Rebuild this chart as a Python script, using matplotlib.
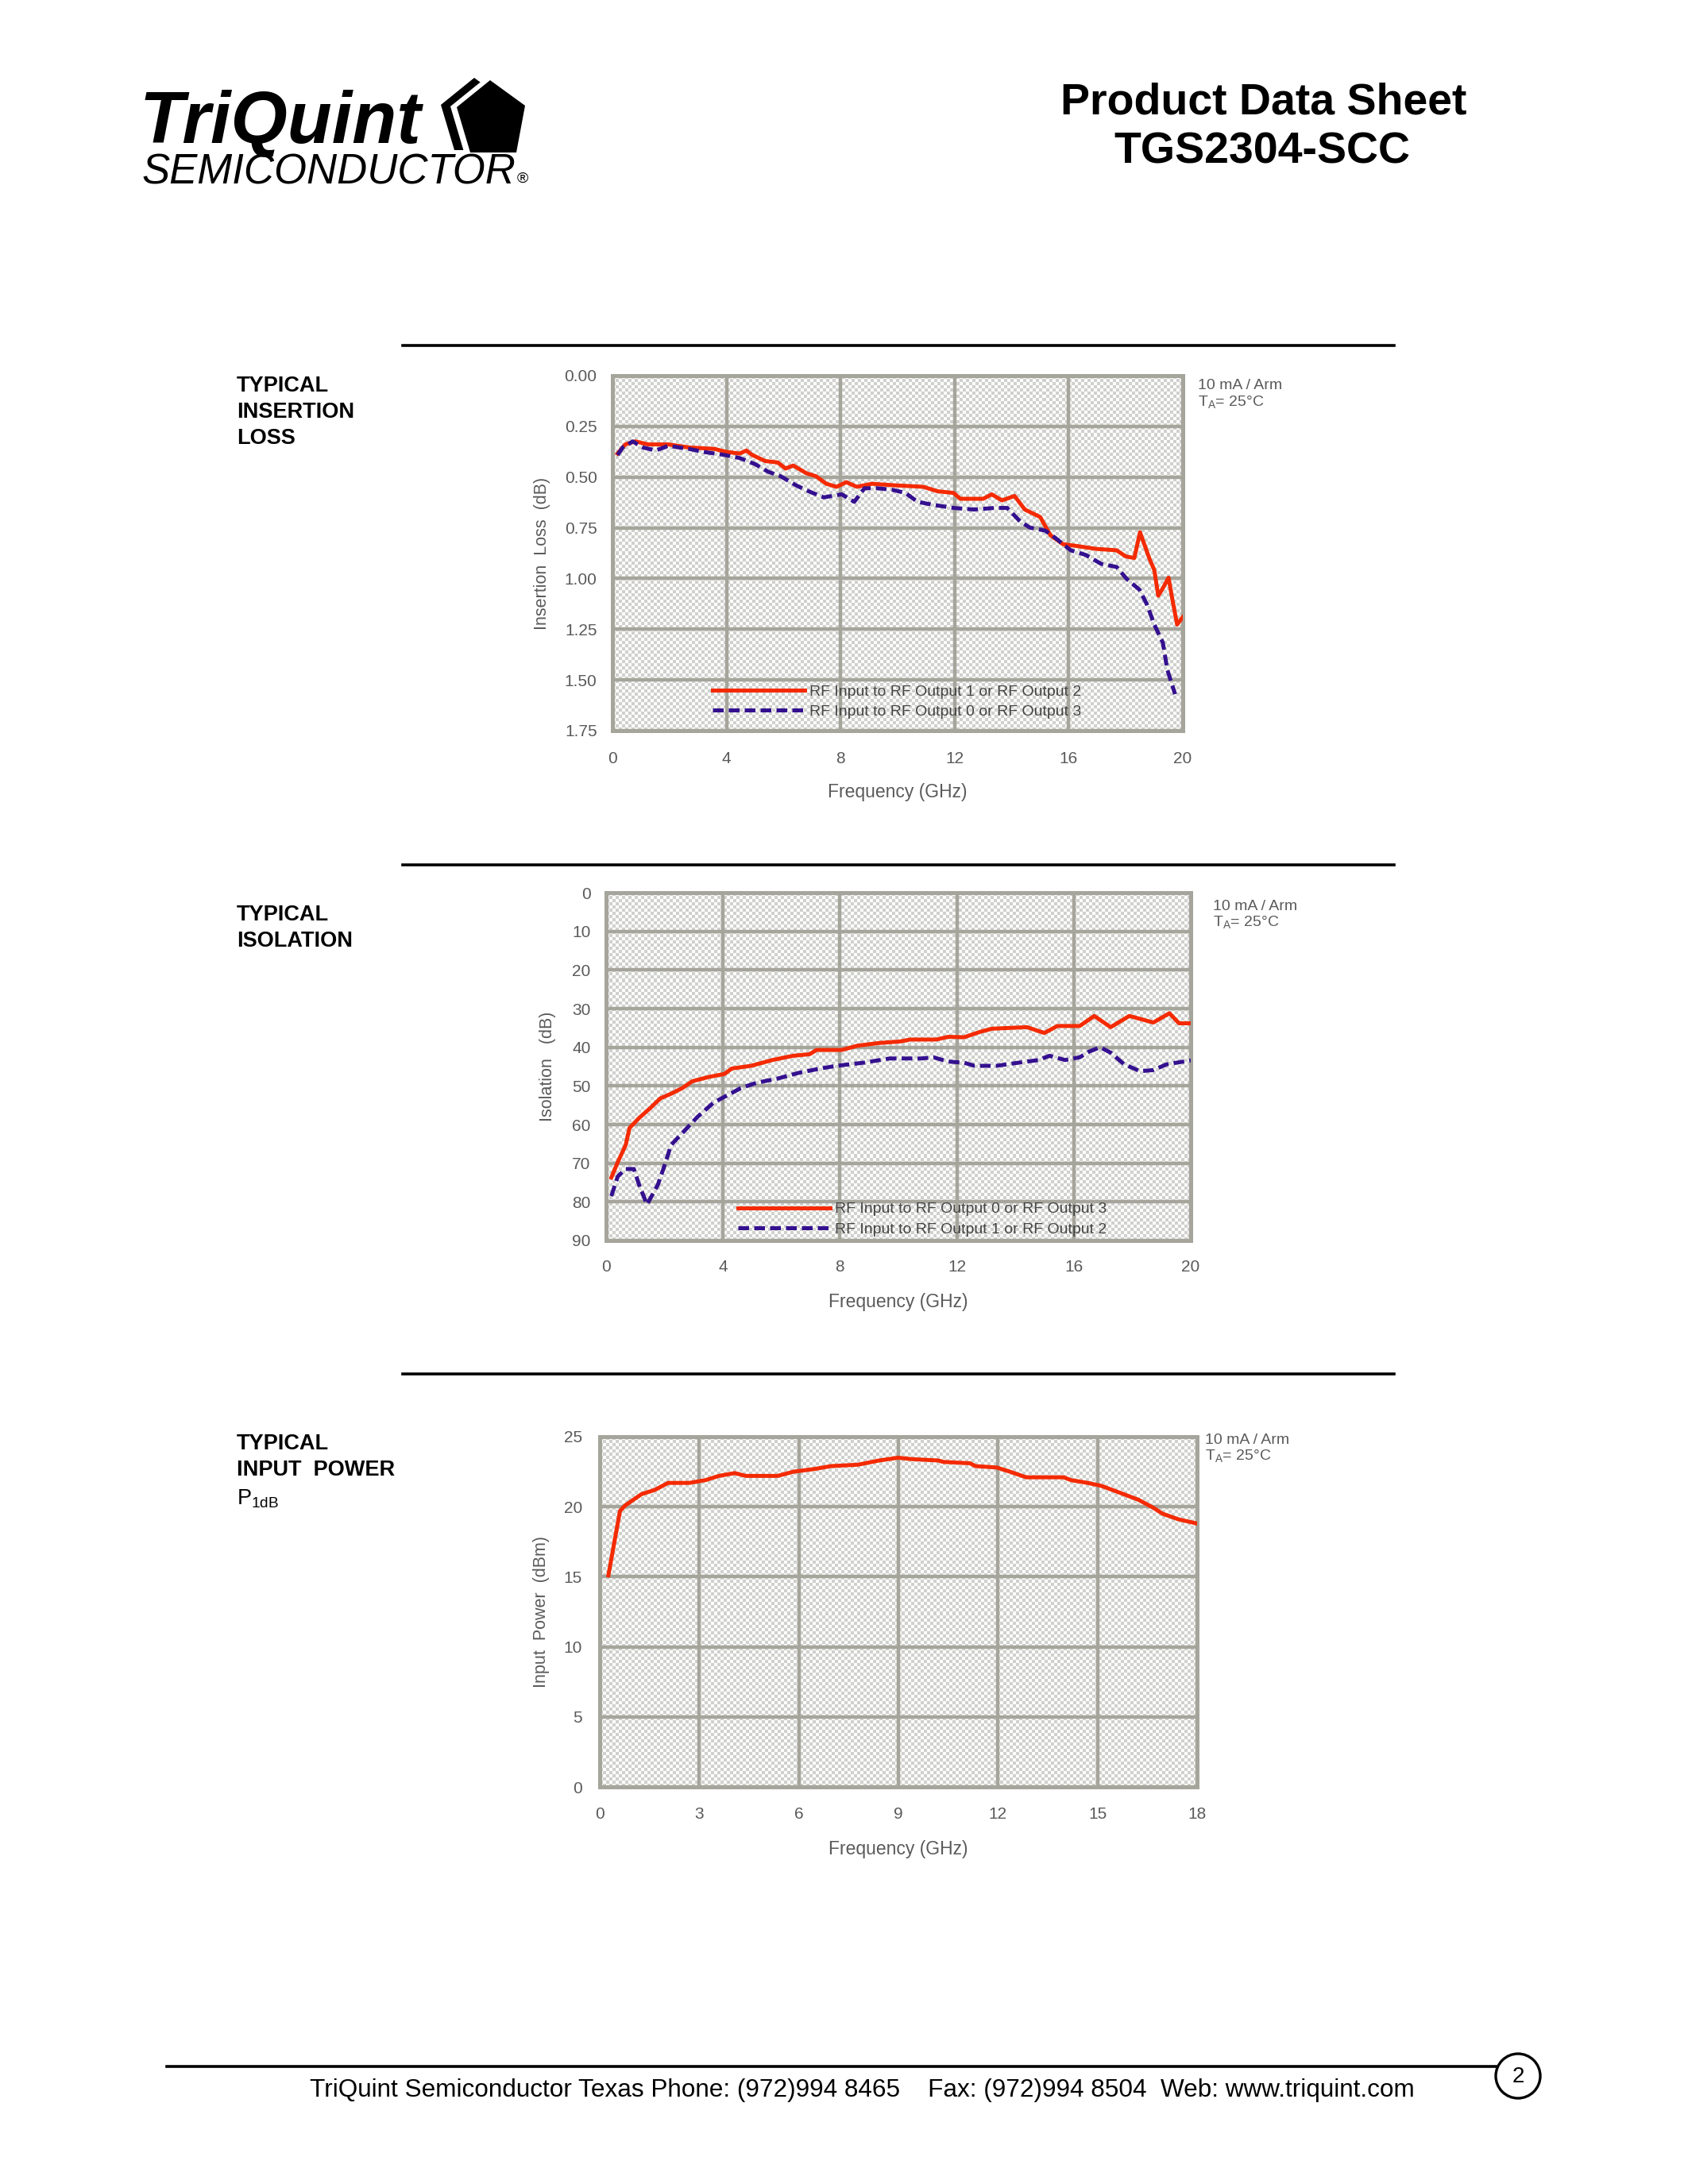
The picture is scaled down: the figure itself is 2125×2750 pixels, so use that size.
import numpy as np
import matplotlib
matplotlib.use("Agg")
import matplotlib.pyplot as plt
from matplotlib.lines import Line2D
from matplotlib.patches import Polygon, Ellipse

W, H = 2125, 2750

# --- insertion loss (dB) vs frequency (GHz)
il_freq_12 = [0.18, 0.45, 0.8, 1.25, 1.96, 2.68, 3.57, 4.0, 4.46, 4.7, 4.9, 5.36, 5.8, 6.07,
              6.34, 6.8, 7.14, 7.5, 7.86, 8.2, 8.57, 9.1, 9.82, 10.9, 11.4, 11.96, 12.2, 13.0,
              13.3, 13.66, 14.1, 14.46, 15.0, 15.36, 15.8, 16.25, 16.96, 17.68, 18.0, 18.3,
              18.5, 18.84, 19.0, 19.14, 19.3, 19.5, 19.64, 19.8, 20.0]
il_loss_12 = [0.384, 0.339, 0.324, 0.339, 0.339, 0.354, 0.361, 0.376, 0.384, 0.369, 0.391,
              0.421, 0.428, 0.458, 0.443, 0.481, 0.496, 0.533, 0.548, 0.525, 0.548, 0.533,
              0.540, 0.548, 0.570, 0.578, 0.607, 0.607, 0.585, 0.615, 0.593, 0.660, 0.697,
              0.787, 0.831, 0.839, 0.854, 0.861, 0.891, 0.899, 0.772, 0.906, 0.958, 1.085,
              1.048, 0.996, 1.107, 1.227, 1.19]
il_freq_03 = [0.18, 0.36, 0.71, 1.07, 1.52, 1.96, 2.68, 3.2, 3.93, 4.46, 5.0, 5.45, 5.9, 6.43,
              6.88, 7.41, 8.04, 8.48, 8.84, 9.3, 9.82, 10.27, 10.7, 11.25, 11.96, 12.68, 13.4,
              13.84, 14.3, 14.64, 15.18, 15.54, 16.07, 16.6, 17.14, 17.68, 18.04, 18.48,
              18.75, 19.0, 19.3, 19.46, 19.73]
il_loss_03 = [0.391, 0.354, 0.324, 0.354, 0.369, 0.346, 0.361, 0.376, 0.391, 0.406, 0.436,
              0.473, 0.496, 0.540, 0.570, 0.600, 0.585, 0.622, 0.555, 0.555, 0.563, 0.578,
              0.622, 0.637, 0.652, 0.660, 0.652, 0.652, 0.719, 0.749, 0.764, 0.801, 0.861,
              0.884, 0.928, 0.943, 1.003, 1.055, 1.130, 1.227, 1.316, 1.451, 1.570]

# --- isolation (dB) vs frequency (GHz)
iso_freq_03 = [0.18, 0.4, 0.67, 0.8, 1.13, 1.5, 1.86, 2.2, 2.6, 2.95, 3.5, 4.05, 4.3, 4.96,
               5.69, 6.4, 6.96, 7.2, 8.06, 8.6, 9.33, 10.06, 10.4, 11.3, 11.7, 12.25, 12.8,
               13.2, 14.4, 14.99, 15.44, 16.2, 16.7, 17.26, 17.9, 18.72, 19.27, 19.6, 20.0]
iso_db_03 = [73.7, 69.7, 65.3, 60.9, 58.3, 55.8, 53.2, 52.1, 50.6, 48.8, 47.7, 46.9, 45.5,
             44.8, 43.3, 42.2, 41.8, 40.7, 40.7, 39.6, 38.9, 38.5, 38.0, 38.0, 37.3, 37.4,
             36.0, 35.2, 34.8, 36.3, 34.5, 34.5, 31.9, 34.8, 31.9, 33.6, 31.2, 33.8, 33.8]
iso_freq_12 = [0.18, 0.4, 0.67, 0.95, 1.13, 1.4, 1.77, 2.04, 2.22, 2.77, 3.13, 3.68, 4.23,
               4.6, 5.14, 5.87, 6.6, 7.33, 7.88, 8.8, 9.7, 10.8, 11.2, 11.7, 12.25, 12.6,
               13.35, 14.1, 14.8, 15.17, 15.7, 16.2, 16.53, 16.9, 17.26, 17.72, 18.27, 18.72,
               19.18, 20.0]
iso_db_12 = [78.5, 73.4, 71.5, 71.5, 75.6, 80.7, 75.6, 69.7, 65.3, 60.9, 58.0, 54.3, 52.1,
             50.6, 49.2, 48.1, 46.6, 45.5, 44.8, 44.0, 42.9, 42.9, 42.6, 43.7, 44.0, 44.8,
             44.8, 44.0, 43.3, 42.2, 43.3, 42.6, 41.1, 40.0, 41.4, 44.4, 46.2, 45.9, 44.4,
             43.4]

# --- input power P1dB (dBm) vs frequency (GHz)
p1_freq = [0.26, 0.45, 0.61, 0.77, 1.26, 1.66, 2.06, 2.7, 3.19, 3.59, 4.07, 4.4, 5.36, 5.84,
           6.49, 6.97, 7.78, 8.42, 8.99, 9.39, 10.2, 10.35, 11.16, 11.32, 11.96, 12.36,
           12.85, 13.98, 14.2, 14.7, 15.1, 15.67, 16.23, 16.7, 16.96, 17.44, 18.0]
p1_dbm = [15.1, 17.6, 19.7, 20.1, 20.9, 21.2, 21.7, 21.7, 21.9, 22.2, 22.4, 22.2, 22.2, 22.5,
          22.7, 22.9, 23.0, 23.3, 23.5, 23.4, 23.3, 23.2, 23.1, 22.9, 22.8, 22.5, 22.1, 22.1,
          21.9, 21.7, 21.5, 21.0, 20.5, 19.9, 19.5, 19.1, 18.8]

RED = "#f42a00"
BLUE = "#34108f"
GRID = "#a6a59c"
GRAY_TXT = "#5a5a5a"
CHART_FONT = ["Liberation Sans", "DejaVu Sans"]

plt.rcParams["font.family"] = ["Liberation Sans", "DejaVu Sans"]

fig = plt.figure(figsize=(W / 100, H / 100), dpi=100)
fig.patch.set_facecolor("white")


def fx(x):
    return x / W


def fy(y):
    return 1 - y / H


def add_px_axes(l, t, r, b):
    ax = fig.add_axes([fx(l), fy(b), (r - l) / W, (b - t) / H])
    # dithered plot-area fill (gray / white checker, ~4 px cells)
    ny, nx = (b - t) // 4, (r - l) // 4
    checker = (np.add.outer(np.arange(ny), np.arange(nx)) % 2).astype(float)
    ax.imshow(checker, cmap=matplotlib.colors.ListedColormap(["#d0d0d0", "#fdfdf9"]),
              extent=(0, 1, 0, 1), transform=ax.transAxes, aspect="auto",
              interpolation="nearest", zorder=0)
    return ax


def text_px(x, y, s, **kw):
    return fig.text(fx(x), fy(y), s, **kw)


def hline_px(x0, x1, y, lw=2.6):
    fig.add_artist(Line2D([fx(x0), fx(x1)], [fy(y), fy(y)], color="black", lw=lw,
                          transform=fig.transFigure))


def style_chart(ax, xticks, yticks, yfmt, ylabel, ylab_x, xlab_y, xpad, ypad):
    ax.set_xticks(xticks)
    ax.set_yticks(yticks)
    ax.set_yticklabels([yfmt.format(v) for v in yticks])
    ax.grid(True, color=GRID, lw=3.2, zorder=1)
    ax.set_axisbelow(True)
    for s in ax.spines.values():
        s.set_color(GRID)
        s.set_linewidth(3.6)
    ax.tick_params(axis="both", length=0, labelsize=15, labelcolor=GRAY_TXT)
    ax.tick_params(axis="x", pad=xpad)
    ax.tick_params(axis="y", pad=ypad)
    for lab in ax.get_xticklabels() + ax.get_yticklabels():
        lab.set_family(CHART_FONT)
    ax.set_ylabel(ylabel, fontsize=15.5, color=GRAY_TXT, family=CHART_FONT)
    ax.yaxis.set_label_coords(ylab_x, 0.5)
    ax.set_xlabel("Frequency (GHz)", fontsize=16.5, color=GRAY_TXT, family=CHART_FONT)
    ax.xaxis.set_label_coords(0.5, xlab_y)


def cond_note(x, y):
    text_px(x, y, "10 mA / Arm", fontsize=14, color=GRAY_TXT, va="center", ha="left",
            family=CHART_FONT)
    text_px(x, y + 21, r"T$_\mathregular{A}$= 25°C", fontsize=14, color=GRAY_TXT,
            va="center", ha="left", family=CHART_FONT)


dash = (2.7, 1.3)
leg_kw = dict(loc="lower left", frameon=False, handlelength=6.0, handletextpad=0.3,
              labelspacing=0.4, borderpad=0, borderaxespad=0, labelcolor="#444444",
              prop={"family": CHART_FONT, "size": 14})

# ---------------- header
text_px(1591, 130, "Product Data Sheet", fontsize=40, fontweight="bold", ha="center",
        va="center")
text_px(1589, 191, "TGS2304-SCC", fontsize=40, fontweight="bold", ha="center", va="center")

text_px(176, 180, "TriQuint", fontsize=66, fontweight="heavy", style="italic",
        ha="left", va="baseline")
text_px(178, 232, "SEMICONDUCTOR", fontsize=38, style="italic", ha="left", va="baseline")
text_px(651, 230, "®", fontsize=14, ha="left", va="baseline")

pent = [(617, 101), (661, 133), (650, 192), (592, 192), (575, 135)]
for dx, dy, col in [(-20, -3, "black"), (-8, -1, "white"), (0, 0, "black")]:
    pts = [(fx(x + dx), fy(y + dy)) for x, y in pent]
    fig.add_artist(Polygon(pts, closed=True, facecolor=col, edgecolor="none",
                           transform=fig.transFigure))

# ---------------- section labels and rules
hline_px(507, 1755, 435)
hline_px(507, 1755, 1089)
hline_px(507, 1755, 1730)

lab_kw = dict(fontsize=19.5, fontweight="bold", ha="left", va="center")
text_px(298, 486, "TYPICAL", **lab_kw)
text_px(298, 519, "INSERTION", **lab_kw)
text_px(298, 552, "LOSS", **lab_kw)
text_px(298, 1152, "TYPICAL", **lab_kw)
text_px(298, 1185, "ISOLATION", **lab_kw)
text_px(298, 1818, "TYPICAL", **lab_kw)
text_px(298, 1851, "INPUT  POWER", **lab_kw)
text_px(298, 1887, r"P$_\mathregular{1dB}$", fontsize=19.5, ha="left", va="center")

# ---------------- chart 1: insertion loss
ax1 = add_px_axes(771, 473, 1489, 920)
ax1.plot(il_freq_12, il_loss_12, color=RED, lw=3.6, zorder=3,
         label="RF Input to RF Output 1 or RF Output 2")
ax1.plot(il_freq_03, il_loss_03, color=BLUE, lw=3.6, dashes=dash, zorder=3,
         label="RF Input to RF Output 0 or RF Output 3")
ax1.set_xlim(0, 20)
ax1.set_ylim(1.75, 0)
style_chart(ax1, [0, 4, 8, 12, 16, 20], [0, 0.25, 0.5, 0.75, 1.0, 1.25, 1.5, 1.75],
            "{:.2f}", "Insertion  Loss  (dB)", -0.108, -0.148, 19, 14)
ax1.legend(bbox_to_anchor=(0.175, 0.033), **leg_kw)
cond_note(1508, 486)

# ---------------- chart 2: isolation
ax2 = add_px_axes(763, 1124, 1499, 1562)
ax2.plot(iso_freq_03, iso_db_03, color=RED, lw=3.6, zorder=3,
         label="RF Input to RF Output 0 or RF Output 3")
ax2.plot(iso_freq_12, iso_db_12, color=BLUE, lw=3.6, dashes=dash, zorder=3,
         label="RF Input to RF Output 1 or RF Output 2")
ax2.set_xlim(0, 20)
ax2.set_ylim(90, 0)
style_chart(ax2, [0, 4, 8, 12, 16, 20], list(range(0, 91, 10)), "{:d}",
            "Isolation   (dB)", -0.086, -0.151, 17, 14)
ax2.legend(bbox_to_anchor=(0.225, 0.012), **leg_kw)
cond_note(1527, 1141)

# ---------------- chart 3: input power
ax3 = add_px_axes(755, 1809, 1507, 2250)
ax3.plot(p1_freq, p1_dbm, color=RED, lw=3.6, zorder=3)
ax3.set_xlim(0, 18)
ax3.set_ylim(0, 25)
style_chart(ax3, [0, 3, 6, 9, 12, 15, 18], [0, 5, 10, 15, 20, 25], "{:d}",
            "Input  Power  (dBm)", -0.084, -0.152, 18, 16)
cond_note(1517, 1813)

# ---------------- footer
hline_px(210, 1883, 2602, lw=2.6)
text_px(1085, 2632, "TriQuint Semiconductor Texas Phone: (972)994 8465    "
        "Fax: (972)994 8504  Web: www.triquint.com", fontsize=22.7, ha="center",
        va="center")
fig.add_artist(Ellipse((fx(1911), fy(2614)), 56 / W, 56 / H, facecolor="none",
                       edgecolor="black", lw=2.4, transform=fig.transFigure))
text_px(1911, 2615, "2", fontsize=20, ha="center", va="center")

fig.savefig("out.png", dpi=100, facecolor="white")
